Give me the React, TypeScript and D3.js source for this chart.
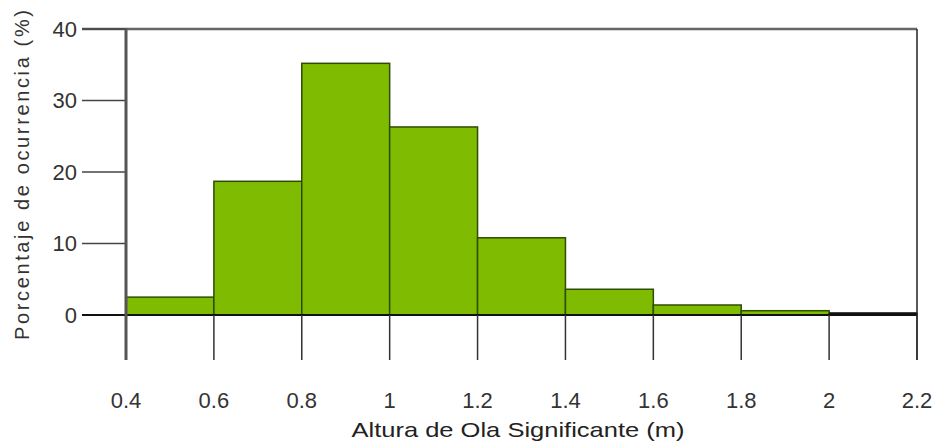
import React from "react";
import * as d3 from "d3";

const binEdges = [0.4, 0.6, 0.8, 1.0, 1.2, 1.4, 1.6, 1.8, 2.0, 2.2];
const percentages = [2.5, 18.7, 35.2, 26.3, 10.8, 3.6, 1.4, 0.6, 0.2];
const xTicks = [0.4, 0.6, 0.8, 1.0, 1.2, 1.4, 1.6, 1.8, 2.0, 2.2];
const yTicks = [0, 10, 20, 30, 40];
const xLabel = "Altura de Ola Significante (m)";
const yLabel = "Porcentaje de ocurrencia (%)";

export default function App() {
  const W = 940, H = 445;
  const x = d3.scaleLinear().domain([0.4, 2.2]).range([126, 917]);
  const y = d3.scaleLinear().domain([0, 40]).range([315, 29]);
  const font = "Arial, 'Liberation Sans', sans-serif";
  const bars = percentages.map((v, i) => ({ x0: binEdges[i], x1: binEdges[i + 1], v }));
  return (
    <svg width={W} height={H} style={{ position: "absolute", left: 0, top: 0, background: "#fff" }} fontFamily={font}>
      {bars.map((b, i) => (
        <rect key={i} x={x(b.x0)} y={y(b.v)} width={x(b.x1) - x(b.x0)} height={y(0) - y(b.v)}
          fill="#7fbb00" stroke="#2e4d05" strokeWidth={1.5} />
      ))}
      <line x1={x(2.0)} x2={x(2.2)} y1={y(0.2)} y2={y(0.2)} stroke="#111" strokeWidth={2.5} />
      <line x1={82} x2={917} y1={y(40)} y2={y(40)} stroke="#666" strokeWidth={2.5} />
      <line x1={917} x2={917} y1={y(40)} y2={360} stroke="#222" strokeWidth={1.5} />
      {yTicks.map((t) => (
        <g key={t}>
          <line x1={82} x2={126} y1={y(t)} y2={y(t)} stroke={t === 0 ? "#111" : "#444"} strokeWidth={t === 0 ? 2 : 1.5} />
          <text x={77} y={y(t)} dy="0.36em" textAnchor="end" fontSize={22} fill="#333">{t}</text>
        </g>
      ))}
      <line x1={82} x2={917} y1={y(0)} y2={y(0)} stroke="#111" strokeWidth={2} />
      {xTicks.map((t) => (
        <g key={t}>
          <line x1={x(t)} x2={x(t)} y1={y(0)} y2={360} stroke="#333" strokeWidth={1.5} />
          <text x={x(t)} y={408} textAnchor="middle" fontSize={22} fill="#333">{d3.format("~g")(t)}</text>
        </g>
      ))}
      <line x1={126} x2={126} y1={y(40) - 1} y2={360} stroke="#555" strokeWidth={3} />
      <text x={518} y={437} textAnchor="middle" fontSize={21} fill="#222" textLength={333} lengthAdjust="spacingAndGlyphs">{xLabel}</text>
      <text transform={`translate(29,${175}) rotate(-90)`} textAnchor="middle" fontSize={20} fill="#333" textLength={330} lengthAdjust="spacing">{yLabel}</text>
    </svg>
  );
}
